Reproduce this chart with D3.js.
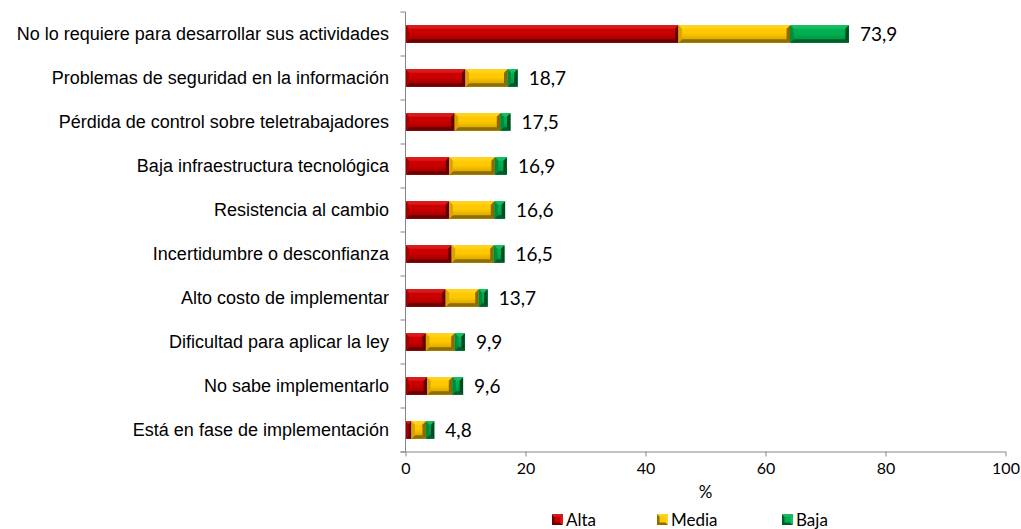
<!DOCTYPE html>
<html>
<head>
<meta charset="utf-8">
<script src="https://cdn.jsdelivr.net/npm/d3@7"></script>
<style>
  html, body { margin: 0; padding: 0; background: #fff; }
  svg { display: block; }
  .cat { font-family: "Liberation Sans", Arial, sans-serif; font-size: 18px; fill: #000; }
  .num { font-family: Lato, "Open Sans", sans-serif; fill: #000; }
</style>
</head>
<body>
<svg id="chart" width="1021" height="529"></svg>
<script>
// ── Data ──
const categories = [
  "No lo requiere para desarrollar sus actividades",
  "Problemas de seguridad en la información",
  "Pérdida de control sobre teletrabajadores",
  "Baja infraestructura tecnológica",
  "Resistencia al cambio",
  "Incertidumbre o desconfianza",
  "Alto costo de implementar",
  "Dificultad para aplicar la ley",
  "No sabe implementarlo",
  "Está en fase de implementación"
];
const alta  = [45.5, 10.0, 8.2, 7.3, 7.3, 7.7, 6.7, 3.4, 3.6, 1.0];
const media = [18.6,  7.0, 7.6, 7.6, 7.5, 7.0, 5.5, 4.8, 4.2, 2.4];
const baja  = [ 9.8,  1.7, 1.7, 2.0, 1.8, 1.8, 1.5, 1.7, 1.8, 1.4];
const totals = ["73,9", "18,7", "17,5", "16,9", "16,6", "16,5", "13,7", "9,9", "9,6", "4,8"];
const seriesNames = ["Alta", "Media", "Baja"];
const xTicks = [0, 20, 40, 60, 80, 100];

// bevel shades per series
const shades = {
  Alta:  { base: "#cc0000", top: "#d81a1a", left: "#a30000", right: "#5e0000", bottom: "#700000", low: "#8e0000" },
  Media: { base: "#ffc800", top: "#ffd21e", left: "#d9a400", right: "#8a6a00", bottom: "#8f6d00", low: "#c99b00" },
  Baja:  { base: "#00b050", top: "#14bd5e", left: "#008a3c", right: "#004d22", bottom: "#005e2a", low: "#008a3e" }
};

const svg = d3.select("#chart");
const defs = svg.append("defs");
Object.entries(shades).forEach(([k, s]) => {
  const gr = defs.append("linearGradient").attr("id", "g-" + k)
    .attr("x1", 0).attr("y1", 0).attr("x2", 0).attr("y2", 1);
  gr.append("stop").attr("offset", "0%").attr("stop-color", s.base);
  gr.append("stop").attr("offset", "45%").attr("stop-color", s.base);
  gr.append("stop").attr("offset", "100%").attr("stop-color", s.low);
});

const x = d3.scaleLinear().domain([0, 100]).range([405.5, 1005.5]);
const y = d3.scaleBand().domain(categories).range([12, 452])
  .paddingInner(0.6).paddingOuter(0.3);

const rows = categories.map((c, i) => ({ cat: c, Alta: alta[i], Media: media[i], Baja: baja[i] }));
const stack = d3.stack().keys(seriesNames)(rows);

// ── Bars (bevelled segments) ──
function bevel(g, x0, x1, y0, h, key) {
  const s = shades[key];
  const w = x1 - x0;
  const b = Math.min(3.5, w / 2, h / 2);
  const pts = a => a.map(p => p.join(",")).join(" ");
  g.append("rect").attr("x", x0).attr("y", y0).attr("width", w).attr("height", h)
    .attr("fill", `url(#g-${key})`);
  g.append("polygon").attr("fill", s.top)
    .attr("points", pts([[x0, y0], [x1, y0], [x1 - b, y0 + b], [x0 + b, y0 + b]]));
  g.append("polygon").attr("fill", s.bottom)
    .attr("points", pts([[x0, y0 + h], [x1, y0 + h], [x1 - b, y0 + h - b], [x0 + b, y0 + h - b]]));
  g.append("polygon").attr("fill", s.left)
    .attr("points", pts([[x0, y0], [x0 + b, y0 + b], [x0 + b, y0 + h - b], [x0, y0 + h]]));
  g.append("polygon").attr("fill", s.right)
    .attr("points", pts([[x1, y0], [x1 - b, y0 + b], [x1 - b, y0 + h - b], [x1, y0 + h]]));
}

const barsG = svg.append("g");
stack.forEach(layer => {
  layer.forEach(d => {
    bevel(barsG.append("g"), x(d[0]), x(d[1]), y(d.data.cat), y.bandwidth(), layer.key);
  });
});

// ── Value labels ──
svg.append("g").selectAll("text")
  .data(rows)
  .join("text")
  .attr("class", "num")
  .attr("x", (d, i) => x(stack[2][i][1]) + 11)
  .attr("y", d => y(d.cat) + y.bandwidth() / 2)
  .attr("dy", "0.36em")
  .style("font-size", "19px")
  .text((d, i) => totals[i]);

// ── Y axis ──
const yAxis = svg.append("g");
yAxis.append("line").attr("x1", x(0)).attr("x2", x(0)).attr("y1", 12).attr("y2", 452)
  .attr("stroke", "#868686");
const bounds = categories.map(c => y(c) - y.step() * y.paddingInner() / 2).concat([452]);
yAxis.selectAll(".tk").data(bounds).join("line")
  .attr("x1", x(0) - 5).attr("x2", x(0))
  .attr("y1", d => d).attr("y2", d => d)
  .attr("stroke", "#868686");
yAxis.selectAll(".cat").data(categories).join("text")
  .attr("class", "cat")
  .attr("x", 389)
  .attr("y", d => y(d) + y.bandwidth() / 2)
  .attr("dy", "0.36em")
  .attr("text-anchor", "end")
  .text(d => d);

// ── X axis ──
const xAxis = svg.append("g").attr("transform", "translate(0,451.5)")
  .call(d3.axisBottom(x).tickValues(xTicks).tickSize(5).tickSizeOuter(0).tickPadding(6));
xAxis.select(".domain").attr("stroke", "#868686").attr("d", `M${x(0) - 5},0.5H${x(100)}`);
xAxis.selectAll(".tick line").attr("stroke", "#868686");
xAxis.selectAll(".tick text")
  .attr("class", "num")
  .style("font-size", "16px")
  .attr("fill", "#000");

svg.append("text").attr("class", "num")
  .attr("x", x(50)).attr("y", 498)
  .attr("text-anchor", "middle")
  .style("font-size", "17px")
  .text("%");

// ── Legend ──
const legendX = [552, 657, 782];
const legend = svg.append("g").selectAll("g").data(seriesNames).join("g")
  .attr("transform", (d, i) => `translate(${legendX[i]},514)`);
legend.each(function (d) {
  const s = shades[d];
  const g = d3.select(this);
  g.append("polygon").attr("points", "0,0 11,0 11,11").attr("fill", s.top);
  g.append("polygon").attr("points", "0,0 0,11 11,11").attr("fill", s.bottom);
  g.append("rect").attr("x", 2.5).attr("y", 2.5).attr("width", 6).attr("height", 6).attr("fill", s.base);
});
legend.append("text").attr("class", "num")
  .attr("x", 14).attr("y", 6).attr("dy", "0.36em")
  .style("font-size", "17px")
  .text(d => d);
</script>
</body>
</html>
